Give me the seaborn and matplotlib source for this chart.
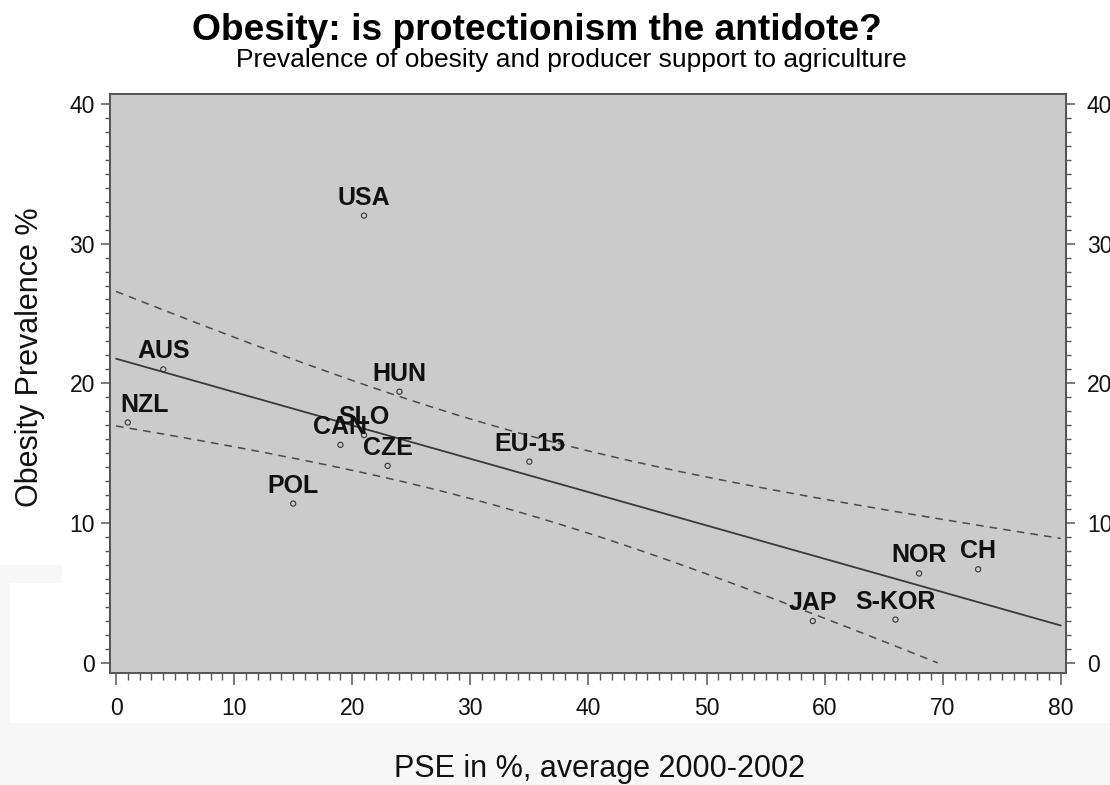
import numpy as np
import pandas as pd
import seaborn as sns
import matplotlib.pyplot as plt
from matplotlib.ticker import MultipleLocator
from matplotlib.patches import Rectangle

countries = ["USA", "AUS", "NZL", "HUN", "CAN", "SLO", "CZE", "POL", "EU-15",
             "NOR", "CH", "JAP", "S-KOR"]
pse = [21, 4, 1, 24, 19, 21, 23, 15, 35, 68, 73, 59, 66]
obesity = [32.0, 21.0, 17.2, 19.4, 15.6, 16.3, 14.1, 11.4, 14.4, 6.4, 6.7, 3.0, 3.1]
x_ticks = [0, 10, 20, 30, 40, 50, 60, 70, 80]
y_ticks = [0, 10, 20, 30, 40]

sns.set_theme(style="white")
plt.rcParams["font.family"] = ["Liberation Sans", "DejaVu Sans"]

df = pd.DataFrame({"country": countries, "pse": pse, "obesity": obesity})

fig = plt.figure(figsize=(11.1, 7.85), dpi=100)
fig.patch.set_facecolor("white")
# faint grey background areas of the original page
bg = "#f7f7f7"
fig.add_artist(Rectangle((0, 0), 1, 1 - 723 / 785, transform=fig.transFigure,
                         facecolor=bg, edgecolor="none", zorder=0))
fig.add_artist(Rectangle((0, 1 - 723 / 785), 10 / 1110, 158 / 785,
                         transform=fig.transFigure, facecolor=bg,
                         edgecolor="none", zorder=0))
fig.add_artist(Rectangle((0, 1 - 583 / 785), 62 / 1110, 18 / 785,
                         transform=fig.transFigure, facecolor=bg,
                         edgecolor="none", zorder=0))

ax = fig.add_axes([110 / 1110, 1 - 673 / 785, 956 / 1110, 579 / 785])
ax.set_facecolor("#cbcbcb")

# regression with 90% confidence band for the mean
x = df["pse"].to_numpy(float)
y = df["obesity"].to_numpy(float)
n = len(x)
slope, intercept = np.polyfit(x, y, 1)
resid = y - (intercept + slope * x)
s = np.sqrt(np.sum(resid ** 2) / (n - 2))
sxx = np.sum((x - x.mean()) ** 2)
t90 = 1.796  # t(0.95, df=11)
xs = np.linspace(0, 80, 500)
fit = intercept + slope * xs
half = t90 * s * np.sqrt(1 / n + (xs - x.mean()) ** 2 / sxx)
upper = fit + half
lower = fit - half
lower = np.where(lower >= 0, lower, np.nan)

ax.plot(xs, fit, color="#3a3a3a", lw=1.3, zorder=2)
ax.plot(xs, upper, color="#4a4a4a", lw=1.1, ls=(0, (5, 4)), zorder=2)
ax.plot(xs, lower, color="#4a4a4a", lw=1.1, ls=(0, (5, 4)), zorder=2)

sns.scatterplot(data=df, x="pse", y="obesity", ax=ax, marker="o", s=14,
                facecolors="none", edgecolors="#333333", linewidths=0.8,
                legend=False, zorder=3)

for c, xv, yv in zip(countries, pse, obesity):
    if xv < 2:
        ax.annotate(c, (xv, yv), xytext=(-7, 18), textcoords="offset pixels",
                    ha="left", va="center", fontsize=18, fontweight="bold",
                    color="#111111", zorder=4)
    else:
        ax.annotate(c, (xv, yv), xytext=(0, 18), textcoords="offset pixels",
                    ha="center", va="center", fontsize=18, fontweight="bold",
                    color="#111111", zorder=4)

ax.set_xlim(-0.51, 80.44)
ax.set_ylim(-0.72, 40.70)
ax.set_xticks(x_ticks)
ax.set_yticks(y_ticks)
ax.xaxis.set_minor_locator(MultipleLocator(1))
ax.yaxis.set_minor_locator(MultipleLocator(1))
ax.set_xlabel("")
ax.set_ylabel("")
tick_col = "#555555"
ax.tick_params(axis="x", which="major", direction="out", length=8.6, width=1.1,
               color=tick_col, pad=8.6, labelsize=16.5, labelcolor="#111111",
               bottom=True)
ax.tick_params(axis="x", which="minor", direction="out", length=5, width=1,
               color=tick_col, bottom=True)
ax.tick_params(axis="y", which="major", direction="out", length=6.5, width=1.1,
               color=tick_col, pad=4.3, labelsize=16.5, labelcolor="#111111",
               left=True)
ax.tick_params(axis="y", which="minor", direction="out", length=3.6, width=1,
               color=tick_col, left=True)

ax2 = ax.twinx()
ax2.set_ylim(ax.get_ylim())
ax2.set_yticks(y_ticks)
ax2.yaxis.set_minor_locator(MultipleLocator(1))
ax2.tick_params(axis="y", which="major", direction="out", length=6.5, width=1.1,
                color=tick_col, pad=8.6, labelsize=16.5, labelcolor="#111111",
                right=True)
ax2.tick_params(axis="y", which="minor", direction="out", length=3.6, width=1,
                color=tick_col, right=True)
ax2.set_ylabel("")

for a in (ax, ax2):
    for sp in a.spines.values():
        sp.set_color("#555555")
        sp.set_linewidth(1.3)

fig.text(537 / 1110, 1 - 40 / 785, "Obesity: is protectionism the antidote?",
         ha="center", va="baseline", fontsize=26.7, fontweight="bold", color="#000000")
fig.text(571 / 1110, 1 - 67 / 785,
         "Prevalence of obesity and producer support to agriculture",
         ha="center", va="baseline", fontsize=19, color="#000000")
fig.text(599 / 1110, 1 - 777 / 785, "PSE in %, average 2000-2002",
         ha="center", va="baseline", fontsize=22, color="#111111")
fig.text(30 / 1110, 1 - 357 / 785, "Obesity Prevalence %", rotation=90,
         ha="center", va="center", fontsize=22, color="#111111")

fig.savefig("out.png", dpi=100)
